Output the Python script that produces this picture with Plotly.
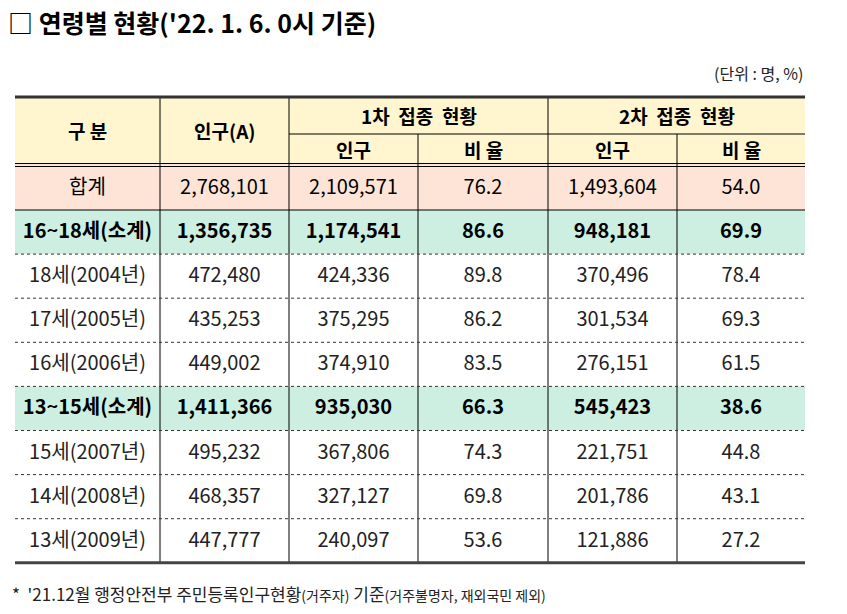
import plotly.graph_objects as go

# 데이터
labels = ["합계", "16~18세(소계)", "18세(2004년)", "17세(2005년)", "16세(2006년)",
          "13~15세(소계)", "15세(2007년)", "14세(2008년)", "13세(2009년)"]
population = [2768101, 1356735, 472480, 435253, 449002, 1411366, 495232, 468357, 447777]
dose1_pop = [2109571, 1174541, 424336, 375295, 374910, 935030, 367806, 327127, 240097]
dose1_rate = [76.2, 86.6, 89.8, 86.2, 83.5, 66.3, 74.3, 69.8, 53.6]
dose2_pop = [1493604, 948181, 370496, 301534, 276151, 545423, 221751, 201786, 121886]
dose2_rate = [54.0, 69.9, 78.4, 69.3, 61.5, 38.6, 44.8, 43.1, 27.2]
row_kind = ["total", "sub", "row", "row", "row", "sub", "row", "row", "row"]

# 레이아웃 (픽셀 좌표)
W, H = 847, 614
col_x = [15, 160, 289, 418, 548, 677, 805]
head_top, head_mid, head_bot = 97, 134, 164
row_top0, row_h = 210, 44.1
fills = {"total": "#FDE4D7", "sub": "#CDEFE2", "row": "white"}
head_fill = "#FFF5CE"
FONT = "Noto Sans CJK KR"

fig = go.Figure()
shapes = []
annos = []


def rect(x0, y0, x1, y1, color):
    shapes.append(dict(type="rect", x0=x0, x1=x1, y0=y0, y1=y1, fillcolor=color,
                       line=dict(width=0), layer="below"))


def line(x0, y0, x1, y1, width=1, color="black", dash="solid"):
    shapes.append(dict(type="line", x0=x0, x1=x1, y0=y0, y1=y1,
                       line=dict(width=width, color=color, dash=dash)))


def row_bounds(i):
    if i == 0:
        return head_bot, row_top0
    return row_top0 + (i - 1) * row_h, row_top0 + i * row_h


# 배경
rect(col_x[0], head_top, col_x[-1], head_bot, head_fill)
for i, k in enumerate(row_kind):
    y0, y1 = row_bounds(i)
    rect(col_x[0], y0, col_x[-1], y1, fills[k])

bottom = row_bounds(len(labels) - 1)[1]

# 세로선
for x in [col_x[1], col_x[2], col_x[4]]:
    line(x, head_top, x, bottom)
for x in [col_x[3], col_x[5]]:
    line(x, head_mid, x, bottom)

# 가로선
line(col_x[2], head_mid, col_x[-1], head_mid)
line(col_x[0], head_bot - 0.5, col_x[-1], head_bot - 0.5)
line(col_x[0], head_bot + 2.5, col_x[-1], head_bot + 2.5)
line(col_x[0], row_top0, col_x[-1], row_top0)
for i in range(2, len(labels)):
    y = row_bounds(i)[0]
    line(col_x[0], y, col_x[-1], y, dash="dot", color="#333")
line(col_x[0], head_top, col_x[-1], head_top, width=3, color="#333")
line(col_x[0], bottom, col_x[-1], bottom, width=3, color="#444")

# 헤더 텍스트
def head(text, x0, x1, y0, y1):
    annos.append(dict(text=text, x=(x0 + x1) / 2, y=(y0 + y1) / 2, showarrow=False,
                      font=dict(family=FONT, size=19, color="black", weight="bold")))


head("구 분", col_x[0], col_x[1], head_top, head_bot)
head("인구(A)", col_x[1], col_x[2], head_top, head_bot)
head("1차  접종  현황", col_x[2], col_x[4], head_top, head_mid)
head("2차  접종  현황", col_x[4], col_x[6], head_top, head_mid)
for j in range(4):
    head(["인구", "비 율"][j % 2], col_x[2 + j], col_x[3 + j], head_mid, head_bot)

# 본문 텍스트
centers = [(col_x[j] + col_x[j + 1]) / 2 for j in range(6)]
for i in range(len(labels)):
    y0, y1 = row_bounds(i)
    if i == 0:
        y0 += 2
    vals = [labels[i], f"{population[i]:,}", f"{dose1_pop[i]:,}", f"{dose1_rate[i]:.1f}",
            f"{dose2_pop[i]:,}", f"{dose2_rate[i]:.1f}"]
    bold = row_kind[i] == "sub"
    fig.add_trace(go.Scatter(
        x=centers, y=[(y0 + y1) / 2 + 1] * 6, mode="text", text=vals,
        textposition="middle center", hoverinfo="skip", showlegend=False,
        textfont=dict(family=FONT, size=20, color="black" if bold or i == 0 else "#222",
                      weight="bold" if bold else "normal")))

# 제목 / 단위 / 주석
annos.append(dict(text="□ 연령별 현황('22. 1. 6. 0시 기준)", x=6, y=22, xanchor="left",
                  showarrow=False,
                  font=dict(family=FONT, size=25, color="black", weight="bold")))
annos.append(dict(text="(단위 : 명, %)", x=col_x[-1], y=73, xanchor="right", showarrow=False,
                  font=dict(family=FONT, size=16, color="#222")))
annos.append(dict(
    text="*  '21.12월 행정안전부 주민등록인구현황<span style='font-size:14px'>(거주자)</span>"
         " 기준<span style='font-size:14px'>(거주불명자, 재외국민 제외)</span>",
    x=10, y=593, xanchor="left", showarrow=False,
    font=dict(family=FONT, size=17, color="#222")))

fig.update_layout(
    width=W, height=H, margin=dict(l=0, r=0, t=0, b=0),
    paper_bgcolor="white", plot_bgcolor="white",
    xaxis=dict(range=[0, W], visible=False, fixedrange=True),
    yaxis=dict(range=[H, 0], visible=False, fixedrange=True),
    shapes=shapes, annotations=annos,
)

fig.write_html("out.html", config={"displayModeBar": False},
               post_script="document.body.style.margin='0px';")
